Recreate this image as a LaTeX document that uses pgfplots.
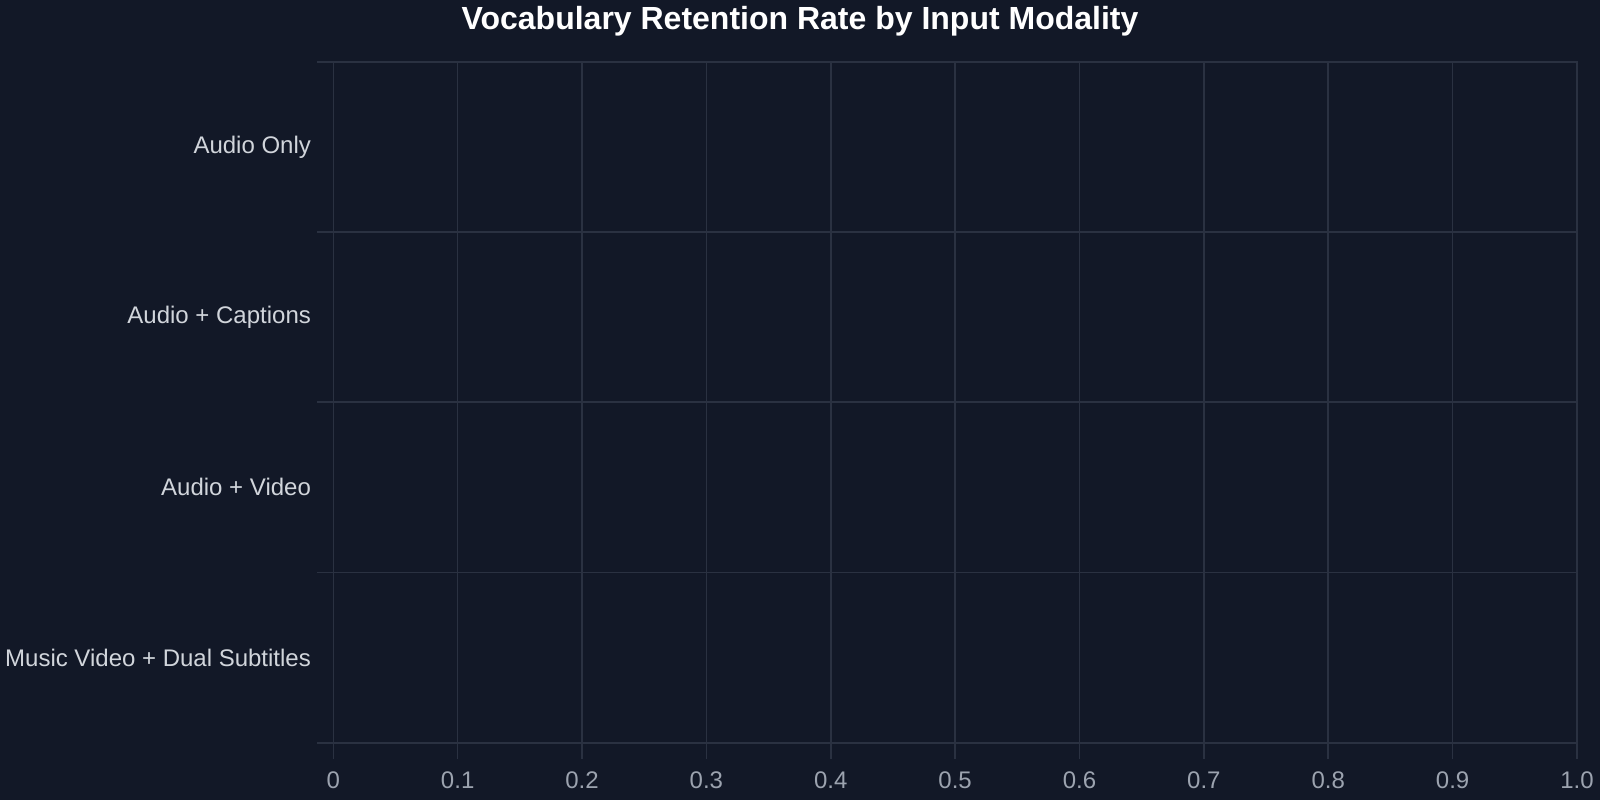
\documentclass[border=0pt]{standalone}
\usepackage{pgfplots}
\pgfplotsset{compat=1.18}
\usepackage{fontspec}
\setmainfont{Liberation Sans}

\definecolor{bgcol}{HTML}{121827}
\definecolor{gridcol}{HTML}{2A3141}
\definecolor{ticklab}{HTML}{9CA3AF}
\definecolor{catlab}{HTML}{D1D5DB}

\begin{document}
\begin{tikzpicture}
% canvas, 1px = 0.5bp
\fill[bgcol] (0,0) rectangle (800bp,400bp);

\node[anchor=base, inner sep=0pt, text=white,
      font=\bfseries\fontsize{16bp}{19bp}\selectfont]
  at (400bp,385bp) {Vocabulary Retention Rate by Input Modality};

\begin{axis}[
    at={(166.65bp,28.65bp)}, anchor=south west,
    scale only axis,
    width=621.85bp, height=340.5bp,
    xmin=0, xmax=1,
    ymin=-0.5, ymax=3.5,
    y dir=reverse,
    enlargelimits=false,
    xtick={0,0.1,...,1.0},
    xticklabels={0,0.1,0.2,0.3,0.4,0.5,0.6,0.7,0.8,0.9,1.0},
    ytick={-0.5,0.5,1.5,2.5,3.5},
    yticklabels={,,,,},
    extra y ticks={0,1,2,3},
    extra y tick labels={Audio Only,Audio + Captions,Audio + Video,Music Video + Dual Subtitles},
    extra y tick style={grid=none, tick style={draw=none}},
    xtick pos=bottom, ytick pos=left,
    xmajorgrids, ymajorgrids,
    grid style={gridcol, line width=0.8bp},
    axis line style={gridcol, line width=0.8bp},
    tick style={gridcol, line width=0.8bp},
    tick align=outside,
    major tick length=8bp,
    xticklabel style={text=ticklab, font=\fontsize{12bp}{14bp}\selectfont,
        inner sep=0pt, anchor=center, yshift=-10.65bp},
    yticklabel style={text=catlab, font=\fontsize{12bp}{14bp}\selectfont,
        inner sep=0pt, anchor=east, xshift=-3bp},
    /pgf/number format/assume math mode=true,
]
% no retention values are shown in the chart: every bar has length 0
\addplot[xbar, draw=none, fill=none, bar width=10pt]
  coordinates {(0,0) (0,1) (0,2) (0,3)};
\end{axis}
\end{tikzpicture}
\end{document}
